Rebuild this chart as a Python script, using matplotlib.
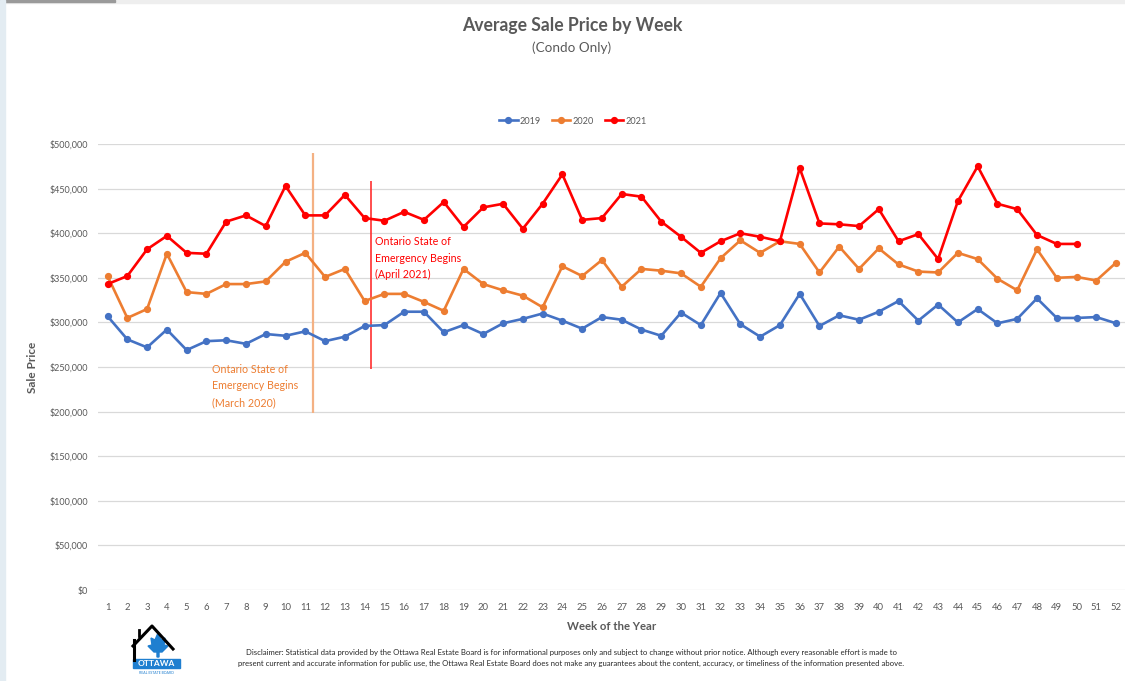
import matplotlib
matplotlib.use('Agg')
import matplotlib.pyplot as plt
from matplotlib.ticker import FuncFormatter
from matplotlib.patches import Polygon, Rectangle
from matplotlib.lines import Line2D

plt.rcParams['font.family'] = ['Lato', 'DejaVu Sans']

weeks = list(range(1, 53))
price_2019 = [307000, 281000, 272000, 292000, 269000, 279000, 280000, 276000, 287000, 285000,
              290000, 279000, 284000, 296000, 297000, 312000, 312000, 289000, 297000, 287000,
              299000, 304000, 310000, 302000, 293000, 306000, 303000, 292000, 285000, 311000,
              297000, 333000, 298000, 284000, 297000, 332000, 296000, 308000, 303000, 312000,
              324000, 302000, 320000, 300000, 315000, 299000, 304000, 327000, 305000, 305000,
              306000, 299000]
price_2020 = [352000, 305000, 315000, 377000, 334000, 332000, 343000, 343000, 346000, 368000,
              378000, 351000, 360000, 324000, 332000, 332000, 323000, 313000, 360000, 343000,
              336000, 330000, 317000, 363000, 352000, 370000, 340000, 360000, 358000, 355000,
              340000, 372000, 392000, 378000, 391000, 388000, 356000, 385000, 360000, 383000,
              365000, 357000, 356000, 378000, 371000, 349000, 336000, 382000, 350000, 351000,
              347000, 367000]
price_2021 = [343000, 352000, 382000, 397000, 378000, 377000, 413000, 420000, 408000, 453000,
              420000, 420000, 443000, 417000, 414000, 424000, 415000, 435000, 407000, 429000,
              433000, 405000, 433000, 466000, 415000, 417000, 444000, 441000, 413000, 396000,
              378000, 391000, 400000, 396000, 391000, 473000, 411000, 410000, 408000, 427000,
              391000, 399000, 371000, 436000, 475000, 433000, 427000, 398000, 388000, 388000]

# lockdown markers: week position, line bottom/top, label
event_week = [11.4, 14.33]
event_low = [198000, 248000]
event_high = [490000, 458000]
event_text = ["Ontario State of\nEmergency Begins\n(March 2020)",
              "Ontario State of\nEmergency Begins\n(April 2021)"]

c19, c20, c21 = '#4472C4', '#ED7D31', '#FF0000'
grey = '#595959'

fig = plt.figure(figsize=(11.25, 6.81), dpi=100)
ax = fig.add_axes([0.0868, 0.1336, 0.9132, 0.6549])

ax.plot(weeks, price_2019, color=c19, lw=1.9, marker='o', ms=4.2, label='2019', zorder=3)
ax.plot(weeks, price_2020, color=c20, lw=1.9, marker='o', ms=4.2, label='2020', zorder=3)
ax.plot(weeks[:len(price_2021)], price_2021, color=c21, lw=1.9, marker='o', ms=4.2,
        label='2021', zorder=4)

ax.vlines(event_week[0], event_low[0], event_high[0], color='#F4B183', lw=1.6, zorder=2)
ax.vlines(event_week[1], event_low[1], event_high[1], color='#FF3030', lw=1.2, zorder=2)
ax.text(6.3, 229000, event_text[0], color=c20, fontsize=7.7, va='center', ha='left',
        linespacing=1.62)
ax.text(14.55, 372000, event_text[1], color=c21, fontsize=7.7, va='center', ha='left',
        linespacing=1.62)

ax.set_xlim(0.5, 52.45)
ax.set_ylim(0, 500000)
ax.set_xticks(weeks)
ax.set_yticks(range(0, 500001, 50000))
ax.yaxis.set_major_formatter(FuncFormatter(lambda v, p: '${:,.0f}'.format(v)))
ax.tick_params(length=0, labelsize=6.5, colors=grey, pad=7)
ax.tick_params(axis='x', labelsize=6.8, pad=9)
ax.grid(axis='y', color='#d9d9d9', lw=0.9)
ax.set_axisbelow(True)
for s in ax.spines.values():
    s.set_visible(False)

ax.set_xlabel('Week of the Year', fontsize=8.2, fontweight='bold', color=grey, labelpad=7)
ax.set_ylabel('Sale Price', fontsize=8.5, fontweight='bold', color=grey, labelpad=8)

fig.text(572 / 1125, 1 - 25 / 681, 'Average Sale Price by Week', fontsize=12.7,
         fontweight='bold', color=grey, ha='center', va='center')
fig.text(572 / 1125, 1 - 48 / 681, '(Condo Only)', fontsize=9.7, color=grey,
         ha='center', va='center')

fig.legend(loc='center', bbox_to_anchor=(573 / 1125, 1 - 121 / 681), ncol=3, frameon=False,
           fontsize=6.6, handlelength=2.0, handletextpad=0.25, columnspacing=1.2,
           labelcolor=grey)

disclaimer = ("Disclaimer: Statistical data provided by the Ottawa Real Estate Board is for "
              "informational purposes only and subject to change without prior notice. Although "
              "every reasonable effort is made to\npresent current and accurate information for "
              "public use, the Ottawa Real Estate Board does not make any guarantees about the "
              "content, accuracy, or timeliness of the information presented above.")
fig.text(571 / 1125, 1 - 658 / 681, disclaimer, fontsize=5.6, color='#262626', ha='center',
         va='center', linespacing=1.75)

# logo (roughly drawn)
def fp(x, y):
    return (x / 1125, 1 - y / 681)

roof = [fp(133, 646), fp(152, 626), fp(173, 649)]
fig.add_artist(Line2D([p[0] for p in roof], [p[1] for p in roof], color='black', lw=2.2))
wall = [fp(134, 640), fp(134, 660)]
fig.add_artist(Line2D([p[0] for p in wall], [p[1] for p in wall], color='black', lw=2.2))
fig.add_artist(Line2D([fp(139, 0)[0], fp(139, 0)[0]], [fp(0, 636)[1], fp(0, 630)[1]],
                      color='black', lw=2.0))
leaf = [fp(158, 633), fp(161, 640), fp(165, 638), fp(164, 645), fp(168, 646), fp(162, 652),
        fp(159, 652), fp(159, 657), fp(157, 657), fp(157, 652), fp(154, 652), fp(148, 646),
        fp(152, 645), fp(151, 638), fp(155, 640)]
fig.add_artist(Polygon(leaf, closed=True, color='#1F7FD0', transform=fig.transFigure))
fig.add_artist(Rectangle(fp(133, 668), 47 / 1125, 9 / 681, color='#1F7FD0',
                         transform=fig.transFigure))
fig.text(156.5 / 1125, 1 - 663.5 / 681, 'OTTAWA', fontsize=6, fontweight='bold',
         color='white', ha='center', va='center')
fig.text(156.5 / 1125, 1 - 673 / 681, 'REAL ESTATE BOARD', fontsize=2.5, color='#1F7FD0',
         ha='center', va='center')

# screenshot frame bits
fig.add_artist(Rectangle((0, 1 - 3 / 681), 1, 3 / 681, color='#eeeeee',
                         transform=fig.transFigure))
fig.add_artist(Rectangle((0, 1 - 2 / 681), 115 / 1125, 2 / 681, color='#9a9a9a',
                         transform=fig.transFigure))
fig.add_artist(Rectangle((0, 0), 5 / 1125, 1, color='#e3ecf2', transform=fig.transFigure))

fig.savefig('out.png', dpi=100)
